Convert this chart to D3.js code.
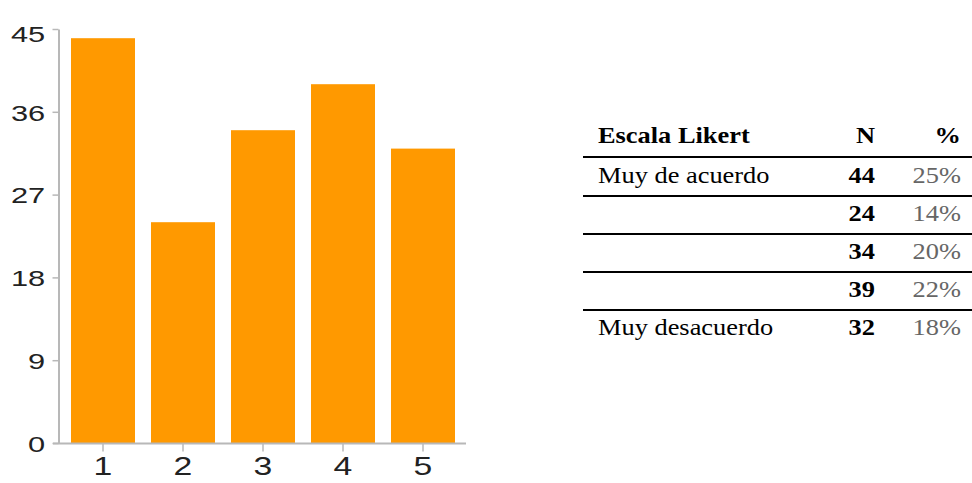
<!DOCTYPE html>
<html>
<head>
<meta charset="utf-8">
<script src="https://cdn.jsdelivr.net/npm/d3@7"></script>
<style>
  body { margin: 0; background: #fff; }
  svg { display: block; }
</style>
</head>
<body>
<script>
// values
const categories = ['1', '2', '3', '4', '5']
const counts = [44, 24, 34, 39, 32]
const yTicks = [0, 9, 18, 27, 36, 45]
const scaleLabels = ['Muy de acuerdo', '', '', '', 'Muy desacuerdo']
const percents = ['25%', '14%', '20%', '22%', '18%']
const headers = ['Escala Likert', 'N', '%']

const w = 972
const h = 483

const svg = d3.select('body')
  .append('svg')
  .attr('width', w)
  .attr('height', h)

// ---- bar chart ----
const xScale = d3.scaleBand()
  .domain(categories)
  .range([63, 463])
  .paddingInner(0.2)
  .paddingOuter(0.1)

const yScale = d3.scaleLinear()
  .domain([0, 45])
  .range([443, 29])

svg.selectAll('rect.bar')
  .data(counts)
  .enter()
  .append('rect')
  .attr('class', 'bar')
  .attr('x', (d, i) => xScale(categories[i]))
  .attr('y', d => yScale(d))
  .attr('width', xScale.bandwidth())
  .attr('height', d => yScale(0) - yScale(d))
  .attr('fill', '#ff9900')

const axisColor = '#b8b8b8'
const sans = 'Liberation Sans, Arial, sans-serif'
// the original chart is a stretched bitmap, so glyphs are wider than normal

const yAxis = svg.append('g')
  .attr('transform', 'translate(58.5, 0)')
  .call(d3.axisLeft(yScale).tickValues(yTicks).tickSize(6).tickSizeOuter(0).tickPadding(3.5))
yAxis.select('.domain').attr('stroke', axisColor).attr('stroke-width', 2)
yAxis.selectAll('.tick line').attr('stroke', axisColor).attr('stroke-width', 1.5)
yAxis.selectAll('.tick text')
  .attr('font-family', sans)
  .attr('font-size', 22)
  .attr('fill', '#222')
  .attr('dy', d => d === 45 ? '0.55em' : '0.38em')
  .attr('transform', 'scale(1.4, 1)')

const xAxis = svg.append('g')
  .attr('transform', `translate(0, ${yScale(0) + 0.5})`)
  .call(d3.axisBottom(xScale).tickSize(8).tickSizeOuter(0).tickPadding(6))
xAxis.select('.domain')
  .attr('d', 'M53,0H466')
  .attr('stroke', axisColor)
  .attr('stroke-width', 2)
xAxis.selectAll('.tick line').attr('stroke', axisColor).attr('stroke-width', 1.5)
xAxis.selectAll('.tick text')
  .attr('font-family', sans)
  .attr('font-size', 25)
  .attr('fill', '#222')
  .attr('transform', 'scale(1.35, 1)')

// ---- table ----
const serif = 'Liberation Serif, Times New Roman, serif'
const tableStretch = 1.1
const tableLeft = 583
const tableRight = 972
const colX = [598, 875, 961]
const headerY = 143
const rowY = d3.scaleLinear().domain([0, 1]).range([183, 221])
const lineY = [157, 196, 234, 272, 310]

const table = svg.append('g')

table.selectAll('text.head')
  .data(headers)
  .enter()
  .append('text')
  .attr('class', 'head')
  .attr('transform', (d, i) => `translate(${colX[i]}, ${headerY}) scale(${tableStretch}, 1)`)
  .attr('text-anchor', (d, i) => i === 0 ? 'start' : 'end')
  .attr('font-family', serif)
  .attr('font-weight', 'bold')
  .attr('font-size', 24)
  .attr('fill', '#000')
  .text(d => d)

table.selectAll('line.rule')
  .data(lineY)
  .enter()
  .append('line')
  .attr('class', 'rule')
  .attr('x1', tableLeft)
  .attr('x2', tableRight)
  .attr('y1', d => d)
  .attr('y2', d => d)
  .attr('stroke', '#000')
  .attr('stroke-width', 2)

const rows = table.selectAll('g.row')
  .data(counts)
  .enter()
  .append('g')
  .attr('class', 'row')
  .attr('transform', (d, i) => `translate(0, ${rowY(i)})`)

rows.append('text')
  .attr('transform', `translate(${colX[0]}, 0) scale(${tableStretch}, 1)`)
  .attr('font-family', serif)
  .attr('font-size', 24)
  .attr('fill', '#000')
  .text((d, i) => scaleLabels[i])

rows.append('text')
  .attr('transform', `translate(${colX[1]}, 0) scale(${tableStretch}, 1)`)
  .attr('text-anchor', 'end')
  .attr('font-family', serif)
  .attr('font-weight', 'bold')
  .attr('font-size', 24)
  .attr('fill', '#000')
  .text(d => d)

rows.append('text')
  .attr('transform', `translate(${colX[2]}, 0) scale(${tableStretch}, 1)`)
  .attr('text-anchor', 'end')
  .attr('font-family', serif)
  .attr('font-size', 24)
  .attr('fill', '#666')
  .text((d, i) => percents[i])
</script>
</body>
</html>
